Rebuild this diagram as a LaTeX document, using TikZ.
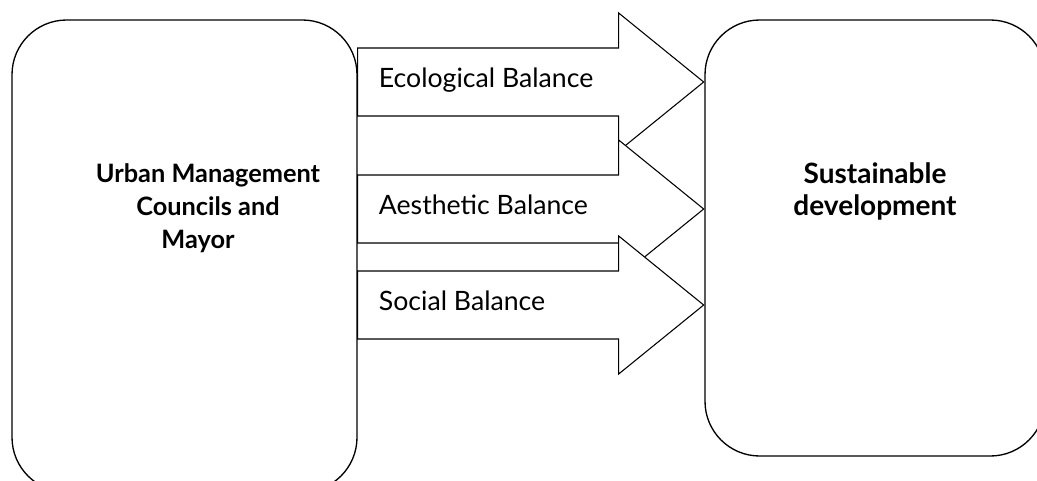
\documentclass[tikz,border=0pt]{standalone}
\usepackage{fontspec}
\setmainfont{Lato}
\usetikzlibrary{positioning}

\tikzset{
  panel/.style={draw, line width=1pt, rounded corners=41pt, inner sep=0pt},
  balance/.style={draw, line width=0.8pt, fill=white},
  heading/.style={font=\bfseries, align=center},
  tag/.style={font=\fontsize{20}{24}\selectfont, anchor=base west, inner sep=0pt}
}

\newcommand{\balancearrow}[3]{%
  \coordinate (#2) at (0,#1);
  \draw[balance] (mayor.east |- #2) ++(0,-34) -- ++(261,0) -- ++(0,-35)
    -- ++(85,69) -- ++(-85,69) -- ++(0,-35) -- ++(-261,0) -- cycle;
  \node[tag, xshift=15.75pt, yshift=-4.1pt] (#2text) at (mayor.east |- #2) {#3};
}

\begin{document}
\begin{tikzpicture}[x=0.75pt, y=-0.75pt]
  \useasboundingbox (0,0) rectangle (1037,481);
  \node[panel, minimum width=258.75pt, minimum height=354pt] (mayor) at (184.5,256) {};
  \node[panel, minimum width=255pt, minimum height=327pt] (goal) at (875,238) {};
  \node[heading, font=\fontsize{19}{24.75}\selectfont\bfseries] (mayortext) at (208,208)
    {Urban Management\\Councils and\\Mayor\hspace*{15pt}};
  \node[heading, font=\fontsize{21}{24}\selectfont\bfseries] (goaltext) at (875,191)
    {Sustainable\\development};
  \balancearrow{82}{ecol}{Ecological Balance}
  \balancearrow{209}{aest}{Aesthetic Balance}
  \balancearrow{305}{soc}{Social Balance}
\end{tikzpicture}
\end{document}
